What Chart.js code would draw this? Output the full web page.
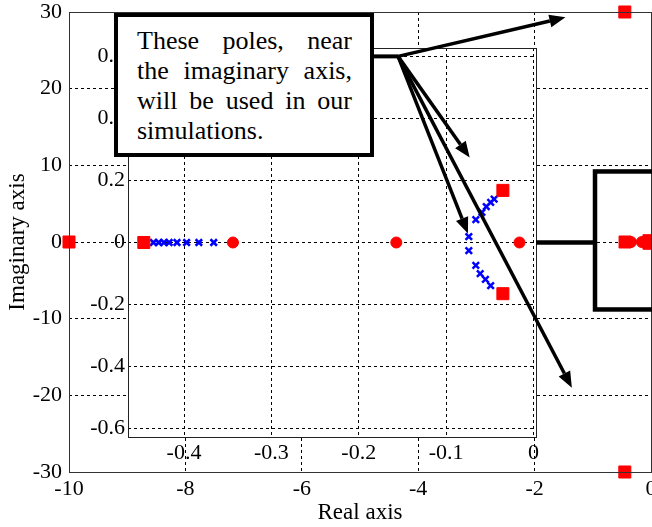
<!DOCTYPE html>
<html>
<head>
<meta charset="utf-8">
<script src="https://cdn.jsdelivr.net/npm/chart.js@4.4.1/dist/chart.umd.min.js"></script>
<style>
  html, body { margin: 0; padding: 0; background: #fff; }
  #wrap { position: relative; width: 652px; height: 527px; overflow: hidden; }
  #wrap canvas { position: absolute; left: 0; top: 0; }
  #note {
    position: absolute; left: 114px; top: 13px;
    width: 252px; height: 136px;
    border: 4px solid #000; background: #fff;
    font-family: "Liberation Serif", "Times New Roman", serif;
    font-size: 26px; line-height: 30px; color: #000;
  }
  #note p {
    position: absolute; left: 19px; right: 18px; top: 9px; margin: 0;
    text-align: justify; text-align-last: justify;
  }
</style>
</head>
<body>
<div id="wrap">
  <canvas id="outer" width="652" height="527"></canvas>
  <canvas id="inset" width="652" height="527"></canvas>
  <div id="note"><p>These poles, near<br>the imaginary axis,<br>will be used in our<br>simulations.</p></div>
</div>
<script>
// Tick values for the full view and the zoomed view
const outerXTicks = [-10, -8, -6, -4, -2, 0];
const outerYTicks = [-30, -20, -10, 0, 10, 20, 30];
const insetXTicks = [-0.4, -0.3, -0.2, -0.1, 0];
const insetYTicks = [-0.6, -0.4, -0.2, 0, 0.2, 0.4, 0.6];

// Open-loop poles (real / imaginary parts)
const poleRe = [-10, -0.45, -0.45, -0.446, -0.035, -0.035];
const poleIm = [0, 30, -30, 0, 0.168, -0.165];

// Zeros
const zeroRe = [-0.344, -0.157, -0.016];
const zeroIm = [0, 0, 0];

// Root-locus samples
const locusRe = [-0.435, -0.429, -0.423, -0.417, -0.408, -0.397, -0.383, -0.366,
                 -0.045, -0.049, -0.054, -0.059, -0.066, -0.074,
                 -0.074, -0.066, -0.061, -0.055, -0.049];
const locusIm = [0, 0, 0, 0, 0, 0, 0, 0,
                 0.140, 0.129, 0.116, 0.097, 0.074, 0.019,
                 -0.026, -0.074, -0.100, -0.119, -0.139];

// Callout geometry (hub and arrow tips in data units of the named view)
const calloutHub = { view: 'inset', x: -0.155, y: 0.6 };
const calloutTips = [
  { view: 'outer', x: -1.47, y: 29.3 },
  { view: 'inset', x: -0.073, y: 0.274 },
  { view: 'inset', x: -0.075, y: 0.029 },
  { view: 'outer', x: -1.36, y: -19.0 }
];
const zoomFrame = { xMin: -0.962, xMax: 0.3, yMin: -8.8, yMax: 9.2 };

Chart.defaults.font.family = '"Liberation Serif", "Times New Roman", serif';
Chart.defaults.color = '#000';

const tickFont = { size: 22 };
const titleFont = { size: 23 };
const zip = (re, im) => re.map((x, i) => ({ x, y: im[i] }));
const fmt = v => (v === 0 ? '0' : (Number.isInteger(v) ? String(v) : v.toFixed(1)));

function makeDatasets(clip) {
  return [
    { label: 'Poles', data: zip(poleRe, poleIm), pointStyle: 'rect', pointRadius: 8.5,
      pointBorderWidth: 1, pointBorderColor: '#ff0000', pointBackgroundColor: '#ff0000', clip },
    { label: 'Zeros', data: zip(zeroRe, zeroIm), pointStyle: 'circle', pointRadius: 5.5,
      pointBorderWidth: 1, pointBorderColor: '#ff0000', pointBackgroundColor: '#ff0000', clip },
    { label: 'Locus', data: zip(locusRe, locusIm), pointStyle: 'crossRot', pointRadius: 4.6,
      pointBorderWidth: 2.5, pointBorderColor: '#0000ff', pointBackgroundColor: '#0000ff', clip }
  ];
}

function axis(min, max, ticks, extra) {
  return Object.assign({
    type: 'linear', min, max,
    afterBuildTicks: s => { s.ticks = ticks.map(v => ({ value: v })); },
    ticks: { autoSkip: false, maxRotation: 0, color: '#000', font: tickFont, callback: fmt },
    grid: { color: '#000', lineWidth: 1, drawTicks: false },
    border: { display: false, dash: [3, 3] }
  }, extra);
}

const frameOuter = {
  id: 'frameOuter',
  afterDraw(chart) {
    const { ctx, chartArea: a } = chart;
    ctx.save();
    ctx.strokeStyle = '#333';
    ctx.lineWidth = 1;
    ctx.strokeRect(Math.round(a.left) + 0.5, Math.round(a.top) + 0.5,
                   Math.round(a.right - a.left), Math.round(a.bottom - a.top));
    ctx.restore();
  }
};

const outerChart = new Chart(document.getElementById('outer'), {
  type: 'scatter',
  data: { datasets: makeDatasets(false) },
  options: {
    responsive: false, animation: false, events: [],
    layout: { autoPadding: false, padding: { left: 0, right: 1, top: 12, bottom: 0 } },
    plugins: { legend: { display: false }, tooltip: { enabled: false } },
    scales: {
      x: axis(-10, 0, outerXTicks, {
        afterFit: s => { s.height = 55; s.paddingLeft = 0; s.paddingRight = 0; },
        title: { display: true, text: 'Real axis', color: '#000', font: titleFont, padding: { top: 0, bottom: 0 } }
      }),
      y: axis(-30, 30, outerYTicks, {
        afterFit: s => { s.width = 69; s.paddingTop = 0; s.paddingBottom = 0; },
        title: { display: true, text: 'Imaginary axis', color: '#000', font: titleFont, padding: { top: 4, bottom: 0 } }
      })
    }
  },
  plugins: [frameOuter]
});
outerChart.options.scales.x.ticks.padding = 4;
outerChart.options.scales.y.ticks.padding = 7;
outerChart.update();

function drawArrow(ctx, x0, y0, x1, y1) {
  const a = Math.atan2(y1 - y0, x1 - x0);
  const L = 16, W = 6.5;
  const bx = x1 - L * Math.cos(a), by = y1 - L * Math.sin(a);
  ctx.beginPath(); ctx.moveTo(x0, y0); ctx.lineTo(bx, by); ctx.stroke();
  ctx.beginPath();
  ctx.moveTo(x1, y1);
  ctx.lineTo(bx + W * Math.sin(a), by - W * Math.cos(a));
  ctx.lineTo(bx - W * Math.sin(a), by + W * Math.cos(a));
  ctx.closePath(); ctx.fill();
}

const insetDecor = {
  id: 'insetDecor',
  beforeDraw(chart) {
    const { ctx, chartArea: a } = chart;
    ctx.save();
    ctx.fillStyle = '#fff';
    ctx.fillRect(a.left, a.top, a.right - a.left, a.bottom - a.top);
    ctx.restore();
  },
  afterDraw(chart) {
    const { ctx, chartArea: a } = chart;
    const views = { inset: chart, outer: outerChart };
    const px = p => [views[p.view].scales.x.getPixelForValue(p.x), views[p.view].scales.y.getPixelForValue(p.y)];
    ctx.save();
    // zoomed view frame
    ctx.strokeStyle = '#222';
    ctx.lineWidth = 1;
    ctx.strokeRect(Math.round(a.left) + 0.5, Math.round(a.top) + 0.5,
                   Math.round(a.right - a.left), Math.round(a.bottom - a.top));
    ctx.strokeStyle = '#000';
    ctx.fillStyle = '#000';
    // link from zoomed view to the region it enlarges
    const ox = outerChart.scales.x, oy = outerChart.scales.y;
    const fx0 = ox.getPixelForValue(zoomFrame.xMin), fx1 = ox.getPixelForValue(zoomFrame.xMax);
    const fy0 = oy.getPixelForValue(zoomFrame.yMax), fy1 = oy.getPixelForValue(zoomFrame.yMin);
    const y0 = chart.scales.y.getPixelForValue(0);
    ctx.lineWidth = 4.5;
    ctx.beginPath(); ctx.moveTo(a.right, y0); ctx.lineTo(fx0, y0); ctx.stroke();
    ctx.strokeRect(fx0, fy0, fx1 - fx0, fy1 - fy0);
    // callout arrows
    const [hx, hy] = px(calloutHub);
    const note = document.getElementById('note');
    ctx.lineWidth = 4;
    ctx.beginPath(); ctx.moveTo(note.offsetLeft + note.offsetWidth - 4, hy); ctx.lineTo(hx, hy); ctx.stroke();
    ctx.lineWidth = 3.5;
    ctx.lineCap = 'butt';
    calloutTips.forEach(t => { const [tx, ty] = px(t); drawArrow(ctx, hx, hy, tx, ty); });
    ctx.restore();
  }
};

new Chart(document.getElementById('inset'), {
  type: 'scatter',
  data: { datasets: makeDatasets(undefined) },
  options: {
    responsive: false, animation: false, events: [],
    layout: { autoPadding: false, padding: { left: 0, right: 116, top: 48, bottom: 0 } },
    plugins: { legend: { display: false }, tooltip: { enabled: false } },
    scales: {
      x: axis(-0.4641, 0.0029, insetXTicks, {
        afterFit: s => { s.height = 90; s.paddingLeft = 0; s.paddingRight = 0; }
      }),
      y: axis(-0.627, 0.627, insetYTicks, {
        afterFit: s => { s.width = 128; s.paddingTop = 0; s.paddingBottom = 0; }
      })
    }
  },
  plugins: [insetDecor]
});
</script>
</body>
</html>
